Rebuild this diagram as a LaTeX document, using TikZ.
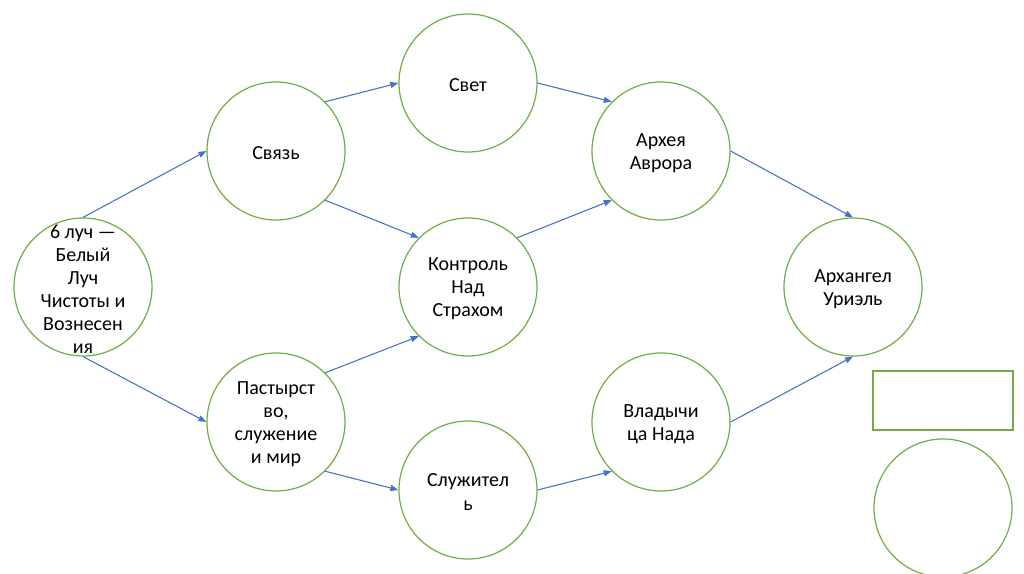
\documentclass[tikz,border=0pt]{standalone}
\usepackage{fontspec}
\setmainfont{Carlito}
\usetikzlibrary{arrows.meta}
\definecolor{ringgreen}{HTML}{70AD47}
\definecolor{linkblue}{HTML}{4472C4}

\begin{document}
\begin{tikzpicture}[x = 0.75pt, y = -0.75pt,
  ring/.style = {circle, draw = ringgreen, line width = 0.9pt, minimum size = 103.5pt, inner sep = 0pt},
  blankbox/.style = {rectangle, draw = ringgreen, line width = 0.9pt, minimum width = 105pt, minimum height = 44.25pt, inner sep = 0pt},
  txt/.style = {align = center, font = \fontsize{15}{17.3}\selectfont, inner sep = 0pt, yshift = -1.5pt},
  link/.style = {draw = linkblue, line width = 0.8pt, -{Triangle[length = 6pt, width = 4.5pt]}}]

\useasboundingbox (0, 0) rectangle (1024, 574);

\node[ring, label = {[txt]center:{6 луч —\\Белый\\Луч\\Чистоты и\\Вознесен\\ия}}] (luch) at (83, 287){};
\node[ring, label = {[txt]center:{Связь}}] (svyaz) at (276, 151){};
\node[ring, label = {[txt]center:{Пастырст\\во,\\служение\\и мир}}] (pastyr) at (276, 422){};
\node[ring, label = {[txt]center:{Свет}}] (svet) at (468, 83){};
\node[ring, label = {[txt]center:{Контроль\\Над\\Страхом}}] (kontrol) at (468, 287){};
\node[ring, label = {[txt]center:{Служител\\ь}}] (sluzh) at (468, 490){};
\node[ring, label = {[txt]center:{Архея\\Аврора}}] (arheya) at (661, 151){};
\node[ring, label = {[txt]center:{Владычи\\ца Нада}}] (nada) at (661, 422){};
\node[ring, label = {[txt]center:{Архангел\\Уриэль}}] (uriel) at (853, 287){};
\node[blankbox] (emptybox) at (943, 400.5){};
\node[ring] (emptyring) at (943, 508){};

\draw[link] (luch.north) -- (svyaz.west);
\draw[link] (luch.south) -- (pastyr.west);
\draw[link] (svyaz.north east) -- (svet.west);
\draw[link] (svyaz.south east) -- (kontrol.north west);
\draw[link] (pastyr.north east) -- (kontrol.south west);
\draw[link] (pastyr.south east) -- (sluzh.west);
\draw[link] (svet.east) -- (arheya.north west);
\draw[link] (kontrol.north east) -- (arheya.south west);
\draw[link] (sluzh.east) -- (nada.south west);
\draw[link] (arheya.east) -- (uriel.north);
\draw[link] (nada.east) -- (uriel.south);
\end{tikzpicture}
\end{document}
